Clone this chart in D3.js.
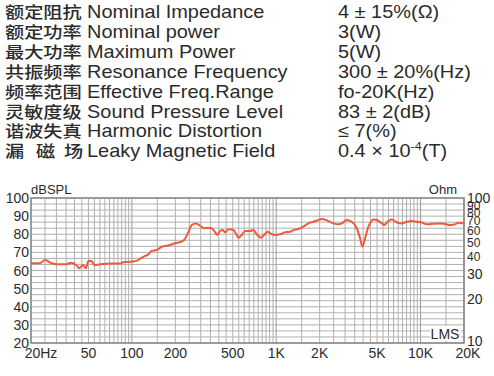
<!DOCTYPE html>
<html><head><meta charset="utf-8">
<script src="https://cdn.jsdelivr.net/npm/d3@7"></script>
<style>body{margin:0;background:#fff}svg{display:block}</style>
</head><body>
<svg id="c" width="494" height="376"></svg>
<script>
// ---- data ----
const specCN = ["额定阻抗","额定功率","最大功率","共振频率","频率范围","灵敏度级","谐波失真","漏 磁 场"];
const specEN = ["Nominal Impedance","Nominal power","Maximum Power","Resonance Frequency","Effective Freq.Range","Sound Pressure Level","Harmonic Distortion","Leaky Magnetic Field"];
const specVal = ["4 ± 15%(Ω)","3(W)","5(W)","300 ± 20%(Hz)","fo-20K(Hz)","83 ± 2(dB)","≤ 7(%)","0.4 × 10|-4|(T)"];

const freqHz = [20,23,25,27,30,35,38,41.5,43,46,48,50,52.6,54.7,60,70,83,87,102,108,117,123,130,137,149,161,174,184,199,221,233,246,260,278,297,316,339,357,377,391,408,426,442,466,505,532,547,577,608,658,695,733,782,824,869,931,982,1064,1151,1247,1315,1424,1542,1671,1809,1959,2067,2260,2488,2696,2846,3082,3339,3614,3811,3953,4129,4356,4716,4976,5389,5587,5981,6320,6846,7414,8028,8696,9418,10200,11050,12280,13650,14780,16020,17350,18300,19820];
const splDb  = [64,64,65.8,64.5,63.4,63.4,64.3,62.7,61.2,63,61.2,65.3,65.3,63,63.4,63.8,63.8,64.5,65,65.3,67.1,68,68.9,70.8,71.3,73.1,73.7,74.1,75,75.9,77.4,81.1,85.1,86,84.7,83.3,83.6,83.3,81.1,79.6,81.8,82.3,81.1,82.7,82.3,79.6,78.1,79.6,81.8,81.8,82.3,80,78.1,79.6,81.4,80,79.6,80,81.1,81.4,82.3,82.9,84.2,86,86.9,87.9,88.4,87.5,86,85.5,86,87.9,86.9,83.3,77.8,73.1,77.8,84.2,88.2,87.9,86,85.1,87.3,88.2,86.5,86,86.9,87.3,86.9,86.5,85.5,85.8,86,85.6,85.1,85.5,86.4,86];

const dbTicks = [20,30,40,50,60,70,80,90,100];
const ohmTicks = [10,20,30,40,50,60,70,80,90,100];
const xTickVals = [20,50,100,200,500,1000,2000,5000,10000,20000];
const xTickText = ["20Hz","50","100","200","500","1K","2K","5K","10K","20K"];

// ---- layout ----
const svg = d3.select("#c");
const L = 31, R = 464, T = 198, B = 343;
const x = d3.scaleLog().domain([20,20000]).range([L,R]);
const y = d3.scaleLinear().domain([20,100]).range([B,T]);
const yO = d3.scaleLog().domain([10,100]).range([B,T]);
const txt = "#2b2b2b";

// spec text block
const rows = svg.append("g");
specCN.forEach((s,i)=>{
  const yy = 18 + i*19.9;
  const parts = s.split(" ").filter(d=>d);
  const xs = parts.length===3 ? [5,36,64] : [5];
  parts.forEach((p,j)=>{
    rows.append("text").attr("transform",`translate(${xs[j]},${yy}) scale(1.2,1)`)
      .attr("font-family","Noto Sans CJK SC").attr("font-size",16).attr("font-weight",500)
      .attr("fill",txt).text(p);
  });
  rows.append("text").attr("transform",`translate(87,${yy}) scale(1.14,1)`)
    .attr("font-family","Liberation Sans, Arial").attr("font-size",17.5).attr("fill",txt).text(specEN[i]);
  const vt = rows.append("text").attr("transform",`translate(338,${yy}) scale(1.14,1)`)
    .attr("font-family","Liberation Sans, Arial").attr("font-size",17.5).attr("fill",txt);
  specVal[i].split("|").forEach((sg,k)=>{
    const ts = vt.append("tspan").text(sg);
    if (k===1) ts.attr("font-size",11).attr("dy",-7);
    if (k===2) ts.attr("dy",7);
  });
});

// grid
const g = svg.append("g");
const vLines = [];
[10,100,1000,10000].forEach(dec=>{
  for (let m=1;m<10;m+=0.5){ const f=dec*m; if (f>=20 && f<=20000) vLines.push(f); }
});
vLines.push(20000);
g.selectAll("line.v").data(vLines).enter().append("line")
  .attr("x1",d=>x(d)).attr("x2",d=>x(d)).attr("y1",T).attr("y2",B)
  .attr("stroke",d=>(Math.abs(Math.log10(d)%1)<1e-6 ? "#999" : "#b0b0b0")).attr("stroke-width",1);
const hLines = d3.range(0,25).map(i=>20+i*80/24);
g.selectAll("line.h").data(hLines).enter().append("line")
  .attr("x1",L).attr("x2",R).attr("y1",d=>y(d)).attr("y2",d=>y(d))
  .attr("stroke","#b0b0b0").attr("stroke-width",1);
g.append("rect").attr("x",L).attr("y",T).attr("width",R-L).attr("height",B-T)
  .attr("fill","none").attr("stroke","#888").attr("stroke-width",1.5);

// LMS label
g.append("rect").attr("x",430).attr("y",326).attr("width",31).attr("height",15).attr("fill","#fff");
g.append("text").attr("x",445).attr("y",339).attr("text-anchor","middle")
  .attr("font-family","Liberation Sans, Arial").attr("font-size",14).attr("fill",txt).text("LMS");

// curve
svg.append("path").datum(freqHz.map((f,i)=>[f,splDb[i]]))
  .attr("d", d3.line().x(d=>x(d[0])).y(d=>y(d[1])).curve(d3.curveMonotoneX))
  .attr("fill","none").attr("stroke","#ef5a3c").attr("stroke-width",2);

// axes labels
const ax = svg.append("g").attr("font-family","Liberation Sans, Arial").attr("font-size",14).attr("fill",txt);
ax.selectAll("text.l").data(dbTicks).enter().append("text")
  .attr("x",29).attr("y",d=>y(d)+5).attr("text-anchor","end").text(d=>d);
ax.selectAll("text.r").data(ohmTicks).enter().append("text")
  .attr("x",467).attr("y",d=>yO(d)+(d===10?3:5)).attr("font-size",d=>(d>=40&&d<=90)?12:14).text(d=>d);
ax.selectAll("text.x").data(xTickVals).enter().append("text")
  .attr("x",(d,i)=>x(d)+(i===0?10:(i===xTickVals.length-1?4:0)))
  .attr("y",358).attr("text-anchor","middle").text((d,i)=>xTickText[i]);
ax.append("text").attr("x",31).attr("y",194).attr("font-size",13).text("dBSPL");
ax.append("text").attr("x",457).attr("y",194).attr("text-anchor","end").attr("font-size",13).text("Ohm");
</script>
</body></html>
